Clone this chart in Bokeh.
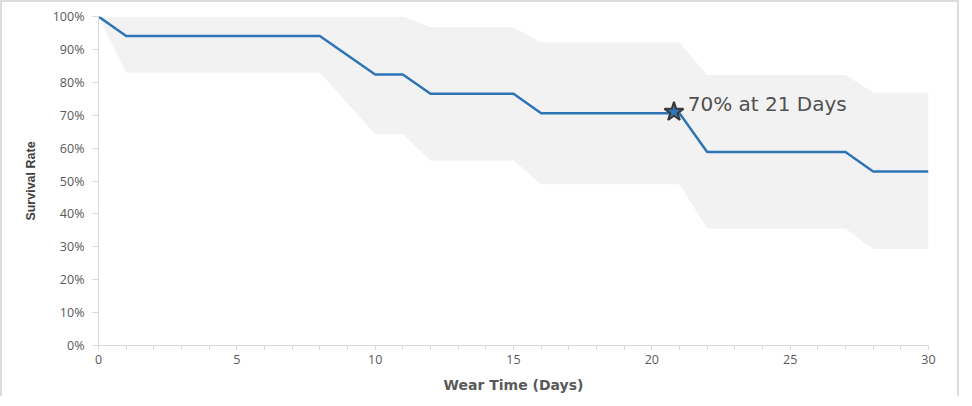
from bokeh.plotting import figure
from bokeh.models import Range1d, ColumnDataSource, FixedTicker, SingleIntervalTicker, NumeralTickFormatter
from bokeh.core.properties import value
from bokeh.embed import file_html
from bokeh.resources import INLINE

# Kaplan-Meier style survival curve
days = [0, 1, 8, 10, 11, 12, 15, 16, 21, 22, 27, 28, 30]
survival = [1.0, 0.941, 0.941, 0.824, 0.824, 0.765, 0.765, 0.706, 0.706, 0.588, 0.588, 0.529, 0.529]

# Confidence band
band_days = [0, 1, 8, 10, 11, 12, 15, 16, 21, 22, 27, 28, 30]
upper = [1.0, 1.0, 1.0, 1.0, 1.0, 0.967, 0.967, 0.921, 0.921, 0.822, 0.822, 0.769, 0.769]
lower = [1.0, 0.83, 0.83, 0.642, 0.642, 0.562, 0.562, 0.49, 0.49, 0.356, 0.356, 0.293, 0.293]

# Highlight
star_x = [20.8]
star_y = [0.71]
annot_x = [21.3]
annot_y = [0.733]
annot_text = ["70% at 21 Days"]

y_ticks = [0.0, 0.1, 0.2, 0.3, 0.4, 0.5, 0.6, 0.7, 0.8, 0.9, 1.0]

p = figure(width=959, height=396, output_backend="svg", toolbar_location=None,
           x_range=Range1d(0, 30), y_range=Range1d(0, 1),
           min_border_left=96, min_border_right=33, min_border_top=14, min_border_bottom=53)
p.styles = {"border-top": "2px solid #dcdcdc", "border-left": "2px solid #dcdcdc",
            "border-right": "2px solid #dcdcdc"}
p.outline_line_color = None
p.background_fill_color = "white"
p.border_fill_color = "white"
p.xgrid.visible = False
p.ygrid.visible = False

p.varea(x=band_days, y1=lower, y2=upper, fill_color="#f2f2f2")
p.line(x=days, y=survival, line_color="#2e75b6", line_width=2.5)
p.scatter(x=star_x, y=star_y, marker="star", size=20, fill_color="#2e75b6",
          line_color="#3a3a3a", line_width=2)
src = ColumnDataSource(dict(x=annot_x, y=annot_y, t=annot_text))
p.text(x="x", y="y", text="t", source=src, text_font=value("DejaVu Sans"),
       text_font_size="20px", text_color="#505050", text_baseline="alphabetic")

tick_font = "Open Sans"
xa = p.xaxis[0]
xa.ticker = SingleIntervalTicker(interval=5, num_minor_ticks=5)
xa.axis_line_color = "#d9d9d9"
xa.major_tick_line_color = "#d9d9d9"
xa.minor_tick_line_color = "#d9d9d9"
xa.major_tick_out = 4
xa.major_tick_in = 0
xa.minor_tick_out = 4
xa.minor_tick_in = 0
xa.major_label_text_font = tick_font
xa.major_label_text_font_size = "12.5px"
xa.major_label_text_color = "#595959"
xa.major_label_standoff = 5
xa.axis_label = "Wear Time (Days)"
xa.axis_label_text_font = "DejaVu Sans"
xa.axis_label_text_font_style = "bold"
xa.axis_label_text_font_size = "14px"
xa.axis_label_text_color = "#595959"
xa.axis_label_standoff = 10

ya = p.yaxis[0]
ya.ticker = FixedTicker(ticks=y_ticks)
ya.formatter = NumeralTickFormatter(format="0%")
ya.axis_line_color = "#d9d9d9"
ya.major_tick_line_color = "#d9d9d9"
ya.minor_tick_line_color = None
ya.major_tick_out = 6
ya.major_tick_in = 0
ya.major_label_text_font = tick_font
ya.major_label_text_font_size = "12.5px"
ya.major_label_text_color = "#595959"
ya.major_label_standoff = 8
ya.axis_label = "Survival Rate"
ya.axis_label_text_font = "Liberation Sans"
ya.axis_label_text_font_style = "bold"
ya.axis_label_text_font_size = "12.5px"
ya.axis_label_text_color = "#404040"
ya.axis_label_standoff = 12

open("out.html", "w").write(file_html(p, INLINE))
